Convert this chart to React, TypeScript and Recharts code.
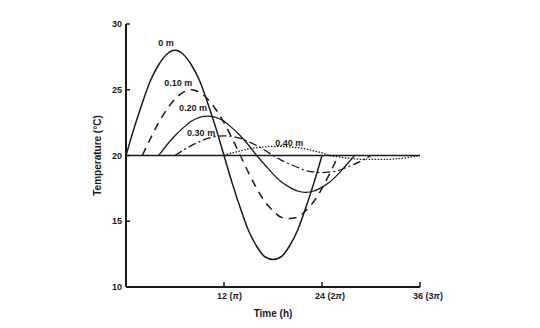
import React from 'react';
import { LineChart, Line, XAxis, YAxis, ReferenceLine, ReferenceDot } from 'recharts';

// hours 0..36, temperature (°C) at each depth, null where the curve is not drawn
const hours = Array.from({ length: 37 }, (_, i) => i);

const depth0 = [20, 22.1, 24.0, 25.7, 26.9, 27.7, 28.0, 27.7, 26.9, 25.7, 24.0, 22.1, 20, 17.9, 16.0, 14.3, 13.1, 12.3, 12.1, 12.3, 13.1, 14.3, 16.0, 17.9, 20,
  null, null, null, null, null, null, null, null, null, null, null, null];
const depth10 = [null, null, 20, 21.3, 22.5, 23.5, 24.3, 24.8, 25.0, 24.8, 24.3, 23.5, 22.5, 21.3, 20, 18.7, 17.5, 16.5, 15.8, 15.3, 15.2, 15.3, 15.8, 16.5, 17.5, 18.7, 20,
  null, null, null, null, null, null, null, null, null, null];
const depth20 = [null, null, null, null, 20, 20.8, 21.5, 22.1, 22.6, 22.9, 23.0, 22.9, 22.6, 22.1, 21.5, 20.8, 20, 19.3, 18.6, 18.0, 17.6, 17.3, 17.2, 17.3, 17.6, 18.0, 18.6, 19.3, 20,
  null, null, null, null, null, null, null, null];
const depth30 = [null, null, null, null, null, null, 20, 20.4, 20.75, 21.05, 21.3, 21.45, 21.5, 21.45, 21.3, 21.05, 20.75, 20.4, 20, 19.65, 19.35, 19.1, 18.85, 18.75, 18.7, 18.75, 18.85, 19.1, 19.35, 19.65, 20,
  null, null, null, null, null, null];
const depth40 = [null, null, null, null, null, null, null, null, null, null, null, null, 20, 20.2, 20.35, 20.5, 20.6, 20.65, 20.7, 20.7, 20.65, 20.6, 20.5, 20.35, 20.2, 20.0, 19.9, 19.8, 19.75, 19.7, 19.7, 19.7, 19.7, 19.75, 19.8, 19.9, 20];

const xTicks = [12, 24, 36];
const xTickLabels = [['12 (', 'π', ')'], ['24 (2', 'π', ')'], ['36 (3', 'π', ')']];
const yTicks = [10, 15, 20, 25, 30];

// curve labels: text, hour, temperature
const curveLabels: [string, number, number][] = [
  ['0 m', 4.9, 28.6],
  ['0.10 m', 6.4, 25.5],
  ['0.20 m', 8.2, 23.6],
  ['0.30 m', 9.2, 21.75],
  ['0.40 m', 20, 21.0],
];

const data = hours.map((h, i) => ({
  h,
  d0: depth0[i],
  d10: depth10[i],
  d20: depth20[i],
  d30: depth30[i],
  d40: depth40[i],
}));

const font = 'Arial, "Liberation Sans", Helvetica, sans-serif';
const ink = '#1a1a1a';

const XTick = (props: any) => {
  const { x, y, payload } = props;
  const idx = xTicks.indexOf(payload.value);
  const parts = xTickLabels[idx] || [String(payload.value), '', ''];
  return (
    <text x={x - 7} y={y} dy="0.71em" textAnchor="start" fontSize={9} fontWeight="bold" fontFamily={font} fill={ink}>
      {parts[0]}
      <tspan fontStyle="italic">{parts[1]}</tspan>
      {parts[2]}
    </text>
  );
};

export default function App() {
  return (
    <div style={{ position: 'absolute', left: 0, top: 0, background: '#fff' }}>
      <LineChart width={540} height={328} data={data} margin={{ top: 24, right: 120, bottom: 1, left: 68 }}>
        <XAxis
          dataKey="h"
          type="number"
          domain={[0, 36]}
          ticks={xTicks}
          height={40}
          axisLine={{ stroke: ink, strokeWidth: 2 }}
          tickLine={{ stroke: ink, strokeWidth: 1.5 }}
          tickSize={-5}
          tickMargin={11}
          tick={<XTick />}
          label={{ value: 'Time (h)', position: 'insideBottom', offset: 10, fontSize: 10, fontWeight: 'bold', fontFamily: font, fill: ink }}
        />
        <YAxis
          type="number"
          domain={[10, 30]}
          ticks={yTicks}
          width={58}
          axisLine={{ stroke: ink, strokeWidth: 2 }}
          tickLine={{ stroke: ink, strokeWidth: 1.5 }}
          tickSize={-4}
          tickMargin={8}
          tick={{ fontSize: 9, fontWeight: 'bold', fontFamily: font, fill: ink }}
          label={{ value: 'Temperature (°C)', angle: -90, position: 'center', fontSize: 10, fontWeight: 'bold', fontFamily: font, fill: ink }}
        />
        <ReferenceLine y={20} stroke={ink} strokeWidth={1.3} />
        <Line dataKey="d0" type="monotone" stroke={ink} strokeWidth={1.5} dot={false} isAnimationActive={false} />
        <Line dataKey="d10" type="monotone" stroke={ink} strokeWidth={1.5} strokeDasharray="8 6" dot={false} isAnimationActive={false} />
        <Line dataKey="d20" type="monotone" stroke={ink} strokeWidth={1.3} dot={false} isAnimationActive={false} />
        <Line dataKey="d30" type="monotone" stroke={ink} strokeWidth={1.3} strokeDasharray="8 3 2 3" dot={false} isAnimationActive={false} />
        <Line dataKey="d40" type="monotone" stroke={ink} strokeWidth={1.3} strokeDasharray="1.5 1.5" dot={false} isAnimationActive={false} />
        {curveLabels.map(([text, x, y]) => (
          <ReferenceDot
            key={text}
            x={x}
            y={y}
            r={0}
            fill="none"
            stroke="none"
            label={{ value: text, position: 'center', fontSize: 9, fontWeight: 'bold', fontFamily: font, fill: ink }}
          />
        ))}
      </LineChart>
    </div>
  );
}
